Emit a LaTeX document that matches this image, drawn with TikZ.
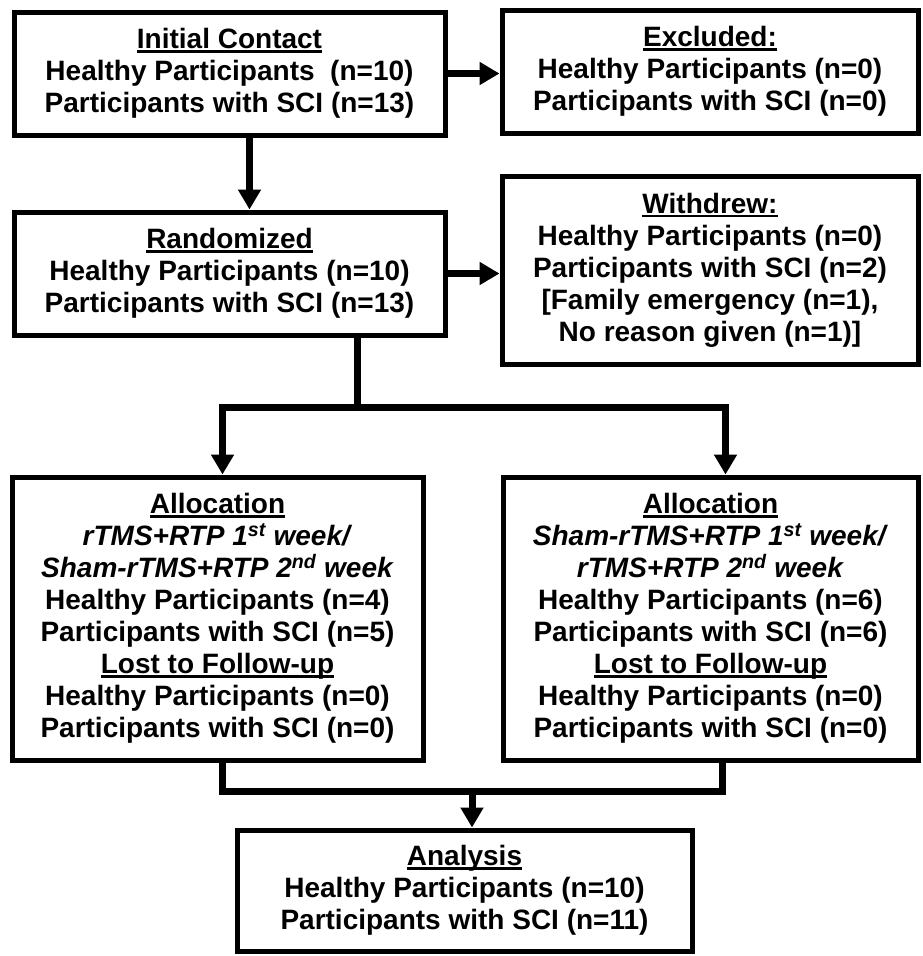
\documentclass[tikz,border=0pt]{standalone}
\usepackage{fontspec}
\setmainfont{Liberation Sans}
\usetikzlibrary{arrows.meta}

\newcommand{\hdr}[1]{\leavevmode\setbox0\hbox{#1}\rlap{\rule[-4pt]{\wd0}{2.6pt}}\box0}

\begin{document}
\begin{tikzpicture}[x=1pt,y=-1pt,
    box/.style={draw, line width=5pt, align=center, inner sep=0pt,
      font=\fontsize{28}{32}\selectfont\bfseries},
    link/.style={line width=7pt},
    arrow/.style={link, -{Triangle[length=20pt,width=22pt]}}]
  \useasboundingbox (0,0) rectangle (922,956);
  \node[box, minimum width=431pt, minimum height=123pt] (contact) at (229.5,73.5)
    {\hdr{Initial Contact}\\ Healthy Participants~ (n=10)\\ Participants with SCI (n=13)};
  \node[box, minimum width=416pt, minimum height=123pt] (excluded) at (710,71.5)
    {\hdr{Excluded:}\\ Healthy Participants (n=0)\\ Participants with SCI (n=0)};
  \node[box, minimum width=431pt, minimum height=123pt] (random) at (229.5,273.5)
    {\hdr{Randomized}\\ Healthy Participants (n=10)\\ Participants with SCI (n=13)};
  \node[box, minimum width=416pt, minimum height=188pt] (withdrew) at (710,270)
    {\hdr{Withdrew:}\\ Healthy Participants (n=0)\\ Participants with SCI (n=2)\\
     {[}Family emergency (n=1),\\ No reason given (n=1)]};
  \node[box, minimum width=411pt, minimum height=283pt] (allocA) at (217.5,618.5)
    {\hdr{Allocation}\\ \textit{rTMS+RTP 1\textsuperscript{st} week/}\\
     \textit{Sham-rTMS+RTP 2\textsuperscript{nd} week}\\
     Healthy Participants (n=4)\\ Participants with SCI (n=5)\\
     \hdr{Lost to Follow-up}\\ Healthy Participants (n=0)\\ Participants with SCI (n=0)};
  \node[box, minimum width=415pt, minimum height=283pt] (allocB) at (710.5,618.5)
    {\hdr{Allocation}\\ \textit{Sham-rTMS+RTP 1\textsuperscript{st} week/}\\
     \textit{rTMS+RTP 2\textsuperscript{nd} week}\\
     Healthy Participants (n=6)\\ Participants with SCI (n=6)\\
     \hdr{Lost to Follow-up}\\ Healthy Participants (n=0)\\ Participants with SCI (n=0)};
  \node[box, minimum width=455pt, minimum height=121pt] (analysis) at (464.5,890.5)
    {\hdr{Analysis}\\ Healthy Participants (n=10)\\ Participants with SCI (n=11)};

  \draw[arrow] (contact.east) -- (contact.east -| excluded.west);
  \draw[arrow] ([xshift=20pt]contact.south) -- ([xshift=20pt]random.north);
  \draw[arrow] (random.east) -- (random.east -| withdrew.west);

  \coordinate (split) at (357,407);
  \draw[link] (split |- random.south) -- (split);
  \draw[arrow] (split) -| ([xshift=5pt]allocA.north);
  \draw[arrow] (split) -| ([xshift=15pt]allocB.north);

  \coordinate (merge) at (472,791);
  \draw[link] ([xshift=5pt]allocA.south) |- (merge);
  \draw[link] ([xshift=12pt]allocB.south) |- (merge);
  \draw[arrow] (merge) -- (merge |- analysis.north);
\end{tikzpicture}
\end{document}
